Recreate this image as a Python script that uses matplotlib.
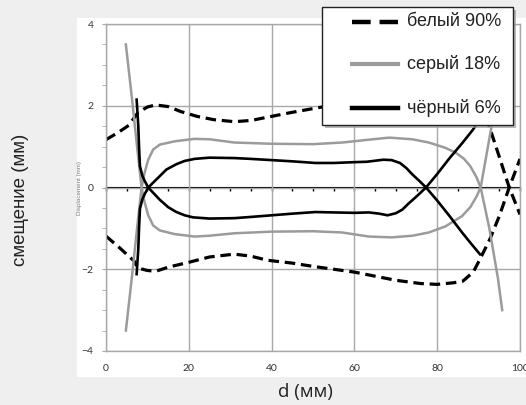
import matplotlib
matplotlib.use("Agg")
import matplotlib.pyplot as plt
from matplotlib.patches import Rectangle
from matplotlib.lines import Line2D
from matplotlib.ticker import NullFormatter

# ---- data: displacement branches (d in mm, displacement in mm) ----
series_names = ["белый 90%", "серый 18%", "чёрный 6%"]

white_a_d = [0, 3, 5.5, 7.7, 10, 12, 15, 18, 22, 26, 31, 35, 40, 45, 50, 55,
             60, 65, 70, 75, 80, 85, 88, 90, 92.6, 95, 97.4, 100]
white_a_mm = [1.17, 1.35, 1.52, 1.83, 1.97, 2.02, 1.98, 1.86, 1.74, 1.66, 1.61,
              1.64, 1.74, 1.84, 1.93, 2.02, 2.1, 2.2, 2.28, 2.35, 2.37, 2.33,
              2.2, 1.98, 1.49, 0.75, 0.0, -0.66]
white_b_d = [0, 3, 6.8, 7.7, 10, 12, 15, 20, 25, 31, 35, 39, 45, 50, 55, 60,
             65, 70, 76, 80, 84, 86.2, 88.7, 90.3, 92.7, 95, 97.4, 100]
white_b_mm = [-1.19, -1.45, -1.8, -1.97, -2.03, -2.05, -1.95, -1.83, -1.7,
              -1.63, -1.68, -1.78, -1.85, -1.93, -2.0, -2.07, -2.17, -2.27,
              -2.35, -2.37, -2.33, -2.29, -2.07, -1.76, -1.27, -0.7, 0.0, 0.7]

gray_a_d = [4.8, 6.3, 7.5, 8.6, 9.3, 10.2, 11.4, 13, 16.6, 21.4, 25, 31, 40,
            50, 57, 63.5, 68.4, 74, 78, 82, 84.5, 86.5, 88, 89.5, 90.5, 92.6,
            94.7, 95.7]
gray_a_mm = [-3.5, -2.15, -1.0, 0.0, 0.35, 0.68, 0.93, 1.05, 1.13, 1.19, 1.18,
             1.1, 1.07, 1.06, 1.1, 1.17, 1.22, 1.18, 1.1, 0.97, 0.85, 0.7,
             0.52, 0.25, 0.0, -1.0, -2.24, -3.0]
gray_b_d = [4.8, 6.3, 7.5, 8.6, 9.3, 10.2, 11.4, 13, 16.6, 21.4, 25, 31, 40,
            50, 57, 63.5, 69, 74, 78, 82, 86, 88, 89.5, 90.5, 93.2, 95.5]
gray_b_mm = [3.5, 2.15, 1.0, 0.0, -0.35, -0.68, -0.93, -1.05, -1.14, -1.2,
             -1.18, -1.12, -1.08, -1.07, -1.1, -1.2, -1.22, -1.18, -1.1, -0.95,
             -0.7, -0.48, -0.22, 0.0, 1.54, 3.0]

black_a_d = [7.4, 7.8, 8.0, 8.2, 8.8, 9.4, 10.2, 11.5, 13, 15, 17, 19, 21, 25,
             31, 35, 40, 45, 50.6, 55, 60, 63.5, 66, 68, 70, 71.6, 73, 75,
             77.3, 80, 83, 86, 88.6, 90.5]
black_a_mm = [2.15, 1.5, 0.95, 0.52, 0.28, 0.15, 0.0, -0.14, -0.3, -0.48,
              -0.6, -0.68, -0.73, -0.76, -0.75, -0.72, -0.68, -0.64, -0.6,
              -0.61, -0.62, -0.61, -0.64, -0.68, -0.63, -0.54, -0.4, -0.22,
              0.0, 0.33, 0.72, 1.08, 1.41, 1.7]
black_b_d = [7.4, 7.8, 8.0, 8.2, 8.8, 9.4, 10.2, 11.5, 13, 14.6, 17, 19, 21.4,
             25, 31, 35, 40, 45, 50.6, 55, 60, 63, 67, 69, 71, 72.5, 74, 75.7,
             77.3, 80, 83, 86, 88, 90.3]
black_b_mm = [-2.12, -1.5, -0.95, -0.52, -0.28, -0.15, 0.0, 0.13, 0.28, 0.44,
              0.57, 0.65, 0.7, 0.73, 0.72, 0.7, 0.67, 0.64, 0.6, 0.6, 0.62,
              0.63, 0.68, 0.67, 0.6, 0.48, 0.32, 0.16, 0.0, -0.32, -0.7, -1.1,
              -1.35, -1.63]

x_ticks = [0, 20, 40, 60, 80, 100]
y_ticks = [-4, -2, 0, 2, 4]

W, H = 526, 405


def fx(px):
    return px / W


def fy(py):
    return 1 - py / H


fig = plt.figure(figsize=(W / 100, H / 100), dpi=100)
fig.patch.set_facecolor("#efefef")

# white chart panel
fig.patches.append(Rectangle((fx(77), fy(377)), fx(526) - fx(77), fy(18) - fy(377),
                             transform=fig.transFigure, facecolor="white",
                             edgecolor="none", zorder=-10))

ax = fig.add_axes([fx(106), fy(351), fx(520) - fx(106), fy(24) - fy(351)])
ax.set_facecolor("white")
ax.set_xlim(0, 100)
ax.set_ylim(-4, 4)

frame_col = "#a8a8a8"
for s in ax.spines.values():
    s.set_color(frame_col)
    s.set_linewidth(1.0)

ax.set_xticks(x_ticks)
ax.set_yticks(y_ticks)
ax.set_yticks([v / 2 for v in range(-8, 9)], minor=True)
ax.tick_params(axis="x", length=0, pad=9.5, labelsize=7.5, labelcolor="#333333")
ax.tick_params(axis="y", which="both", direction="out", length=3,
               color=frame_col, pad=6, labelsize=7.5, labelcolor="#333333")
for lab in ax.get_xticklabels() + ax.get_yticklabels():
    lab.set_fontfamily("Lato")

ax.grid(True, color=frame_col, linewidth=1.0)
ax.set_axisbelow(True)

# zero line with minor ticks every 5 mm
zero_axis = ax.secondary_xaxis(0.5)
zero_axis.spines["bottom"].set_color("black")
zero_axis.spines["bottom"].set_linewidth(1.2)
zero_axis.set_xticks(list(range(0, 101, 5)))
zero_axis.xaxis.set_major_formatter(NullFormatter())
zero_axis.tick_params(axis="x", direction="in", length=3, width=1.0,
                      color="black")

dash_style = (0, (3.3, 1.8))
ax.plot(white_a_d, white_a_mm, color="black", lw=2.3, linestyle=dash_style)
ax.plot(white_b_d, white_b_mm, color="black", lw=2.3, linestyle=dash_style)
ax.plot(gray_a_d, gray_a_mm, color="#9b9b9b", lw=1.8)
ax.plot(gray_b_d, gray_b_mm, color="#9b9b9b", lw=1.8)
ax.plot(black_a_d, black_a_mm, color="black", lw=1.9)
ax.plot(black_b_d, black_b_mm, color="black", lw=1.9)

# faint inner axis caption
fig.text(fx(79), fy(188), "Displacement (mm)", rotation=90, fontsize=4.5,
         color="#777777", ha="center", va="center", family="Liberation Sans")

# axis titles
fig.text(fx(21), fy(200), "смещение (мм)", rotation=90, fontsize=13.5,
         color="#222222", ha="center", va="center", family="Liberation Sans")
fig.text(fx(305), fy(392), "d (мм)", fontsize=13.5, color="#222222",
         ha="center", va="center", family="Open Sans")

# legend box with shadow
lx0, ly0, lx1, ly1 = 322, 7, 513, 125
fig.patches.append(Rectangle((fx(lx0 + 3), fy(ly1 + 3)), fx(lx1) - fx(lx0),
                             fy(ly0) - fy(ly1), transform=fig.transFigure,
                             facecolor="#9a9a9a", edgecolor="none", alpha=0.7,
                             zorder=20))
fig.patches.append(Rectangle((fx(lx0), fy(ly1)), fx(lx1) - fx(lx0),
                             fy(ly0) - fy(ly1), transform=fig.transFigure,
                             facecolor="white", edgecolor="#222222", lw=1.0,
                             zorder=21))
legend_styles = [
    dict(color="black", lw=3.2, linestyle=(0, (4.2, 2.0))),
    dict(color="#9b9b9b", lw=3.0, linestyle="-"),
    dict(color="black", lw=3.2, linestyle="-"),
]
row_y = [22, 64, 108]
for name, style, ry in zip(series_names, legend_styles, row_y):
    fig.lines.append(Line2D([fx(352), fx(398)], [fy(ry), fy(ry)],
                            transform=fig.transFigure, zorder=22, **style))
    fig.text(fx(407), fy(ry), name, fontsize=13, color="#222222",
             ha="left", va="center", family="Liberation Sans", zorder=23)

fig.savefig("out.png", dpi=100, facecolor=fig.get_facecolor())
